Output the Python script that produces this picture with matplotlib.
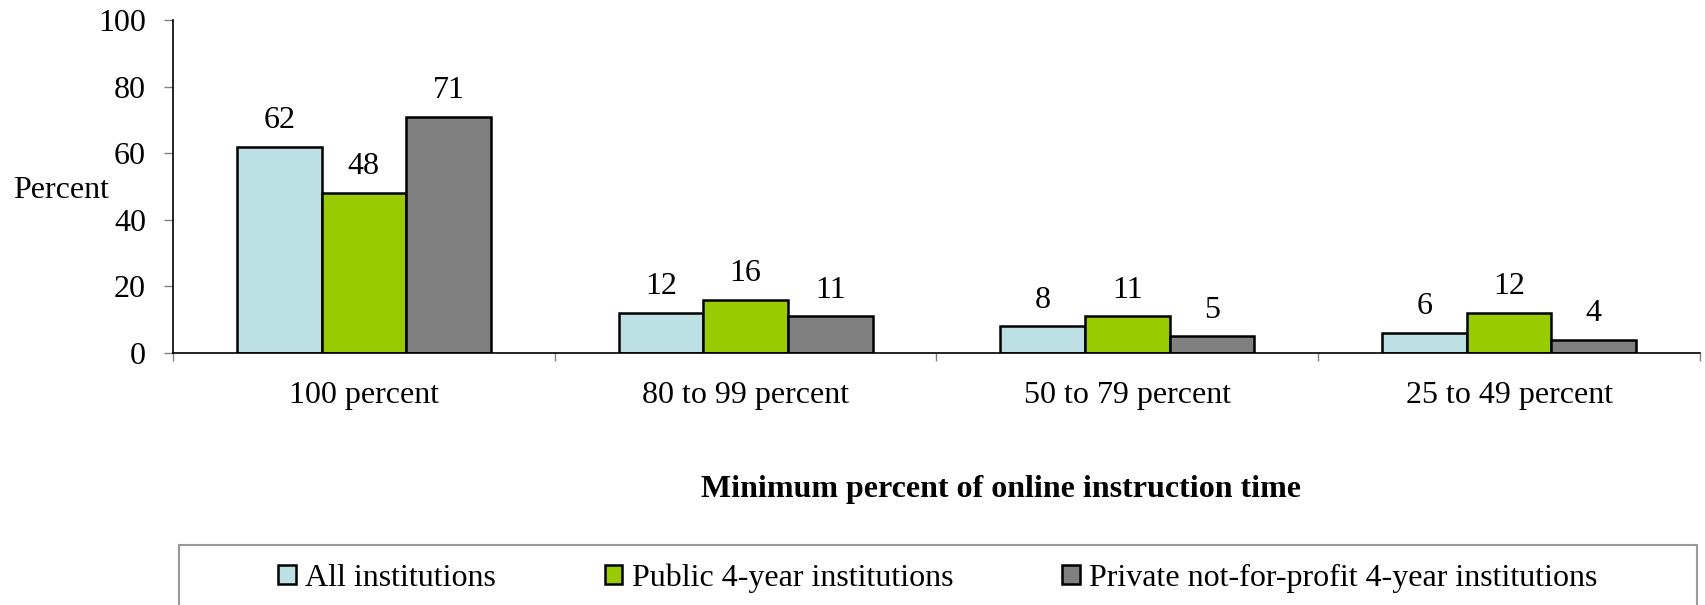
import matplotlib.pyplot as plt
import numpy as np
from matplotlib.patches import Rectangle

categories = ["100 percent", "80 to 99 percent", "50 to 79 percent", "25 to 49 percent"]
series_names = ["All institutions", "Public 4-year institutions",
                "Private not-for-profit 4-year institutions"]
all_inst = [62, 12, 8, 6]
public_4yr = [48, 16, 11, 12]
private_nfp = [71, 11, 5, 4]
colors = ["#BCE0E4", "#99CC00", "#808080"]

plt.rcParams['font.family'] = ['Liberation Serif', 'DejaVu Serif']
plt.rcParams['font.size'] = 23

W, H = 1706, 605
fig = plt.figure(figsize=(W / 100, H / 100), dpi=100)
ax = fig.add_axes([173 / W, (H - 353) / H, (1700 - 173) / W, (353 - 20) / H])

x = np.arange(len(categories))
width = 0.222
for i, (vals, name) in enumerate(zip([all_inst, public_4yr, private_nfp], series_names)):
    pos = x + (i - 1) * width
    bars = ax.bar(pos, vals, width, color=colors[i], edgecolor='black', linewidth=1.8, label=name)
    for b, v in zip(bars, vals):
        ax.annotate(str(v), (b.get_x() + b.get_width() / 2, v), xytext=(0, 13.5),
                    textcoords='offset points', ha='center', va='baseline', fontsize=23)

ax.set_xlim(-0.5, len(categories) - 0.5)
ax.set_ylim(0, 100)
ax.set_yticks(range(0, 101, 20))
ax.tick_params(axis='y', direction='out', length=6.5, width=1, color='#808080', pad=13, labelsize=23)
ax.set_xticks(x)
ax.set_xticklabels(categories)
ax.tick_params(axis='x', which='major', length=0, pad=20, labelsize=23)
ax.set_xticks(np.arange(-0.5, len(categories)), minor=True)
ax.tick_params(axis='x', which='minor', direction='out', length=6, width=1, color='#808080')
for s in ['top', 'right']:
    ax.spines[s].set_visible(False)
ax.spines['left'].set_color('black')
ax.spines['bottom'].set_color('black')
ax.spines['left'].set_linewidth(1.2)
ax.spines['bottom'].set_linewidth(1.2)

fig.text(13 / W, (H - 190) / H, "Percent", ha='left', va='center', fontsize=23)
fig.text(1001 / W, (H - 490) / H, "Minimum percent of online instruction time",
         ha='center', va='center', fontsize=23, fontweight='bold')

# legend frame
fig.patches.append(Rectangle((179 / W, -0.05), (1697 - 179) / W, (H - 545) / H + 0.05,
                             transform=fig.transFigure, fill=False, edgecolor='#999999',
                             linewidth=1.5))
handles, labels = ax.get_legend_handles_labels()
fig.legend(handles, labels, loc='center', bbox_to_anchor=(938 / W, (H - 578) / H), ncol=3,
           frameon=False, handlelength=0.55, handleheight=0.55, handletextpad=0.3,
           columnspacing=3.4, fontsize=23, borderpad=0)

plt.savefig("out.png", dpi=100)
